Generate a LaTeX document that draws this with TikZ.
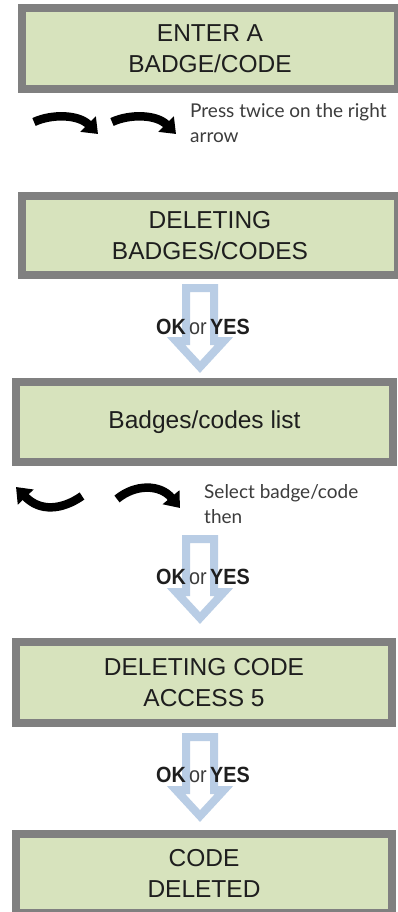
\documentclass[tikz,border=0pt]{standalone}
\usepackage{fontspec}
\usepackage{graphicx}
\setmainfont{Liberation Sans}
\newfontfamily\notefont{Lato}
\usetikzlibrary{arrows.meta}
\definecolor{lcdgray}{HTML}{808080}
\definecolor{lcdgreen}{HTML}{D7E3BD}
\definecolor{okblue}{HTML}{B9CDE5}
\definecolor{txt}{HTML}{1E1E1E}
\definecolor{notegray}{HTML}{3C3C3C}
\tikzset{
  lcd/.style={draw=lcdgray, fill=lcdgreen, line width=8pt, inner sep=0pt,
    minimum width=376pt, text=txt, align=center,
    font=\fontsize{24.5}{31}\selectfont},
  curvy/.style={line width=8.5pt, black, -{Triangle[width=21pt,length=14pt]}},
  oklabel/.style={anchor=base, inner sep=0pt, text=txt, font=\fontsize{22}{24}\selectfont},
  note/.style={anchor=base west, inner sep=0pt, align=left, text=notegray,
    font=\notefont\fontsize{19}{25}\selectfont},
  okarrow/.pic={\draw[okblue, line width=8pt, fill=white, line join=miter]
    (-14,4) -- (-14,57) -- (-24,57) -- (0,83) -- (24,57) -- (14,57) -- (14,4) -- cycle;}
}
\newcommand{\okyes}{\scalebox{0.9}[1]{\textbf{OK}\,{\color{notegray}or}\,\textbf{YES}}}
\begin{document}
\begin{tikzpicture}[x=1pt,y=-1pt]
\useasboundingbox (0,0) rectangle (398,912);
\fill[white] (0,0) rectangle (398,912);

% boxes
\node[lcd, minimum height=81pt] (b1) at (210,48.5) {ENTER A\\BADGE/CODE};
\node[lcd, minimum height=79pt] (b2) at (210,235.5) {DELETING\\BADGES/CODES};
\node[lcd, minimum height=80pt, minimum width=377pt] (b3) at (204.5,422) {Badges/codes list};
\node[lcd, minimum height=81pt] (b4) at (204,682.5) {DELETING CODE\\ACCESS 5};
\node[lcd, minimum height=79pt] (b5) at (204,873.5) {CODE\\DELETED};

% curved arrows, row 1
\coordinate (r1a) at (34,122);  \coordinate (r1b) at (98,134);
\coordinate (r1c) at (112,122); \coordinate (r1d) at (176,134);
\draw[curvy] (r1a) .. controls (51,114) and (78,114) .. (r1b);
\draw[curvy] (r1c) .. controls (129,114) and (156,114) .. (r1d);
\node[note] (n1) at (190,143) {Press twice on the right\\arrow};

% blue arrows
\pic at (200,284) {okarrow};
\node[oklabel] (ok1) at (203,334) {\okyes};

% curved arrows, row 2
\coordinate (r2a) at (82,496);  \coordinate (r2b) at (16,487);
\coordinate (r2c) at (117,499); \coordinate (r2d) at (180,508);
\draw[curvy] (r2a) .. controls (62,510) and (40,512) .. (r2b);
\draw[curvy] (r2c) .. controls (135,484) and (160,484) .. (r2d);
\node[note] (n2) at (204,523) {Select badge/code\\then};

\pic at (200,535) {okarrow};
\node[oklabel] (ok2) at (203,584) {\okyes};

\pic at (200,733) {okarrow};
\node[oklabel] (ok3) at (203,782) {\okyes};
\end{tikzpicture}
\end{document}
